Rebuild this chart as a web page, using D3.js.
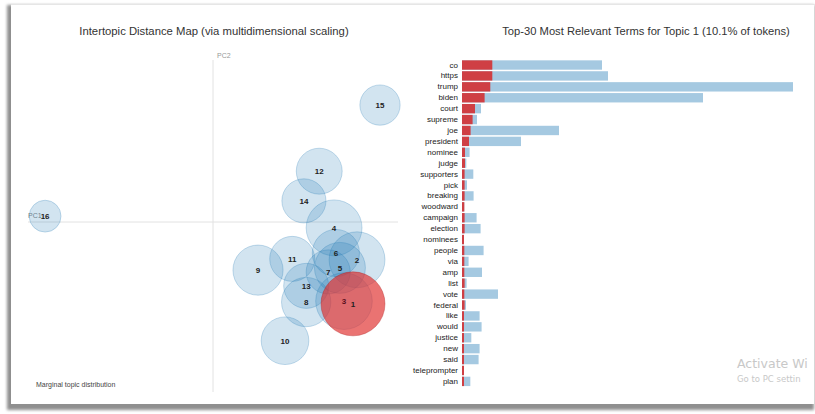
<!DOCTYPE html>
<html>
<head>
<meta charset="utf-8">
<script src="https://cdn.jsdelivr.net/npm/d3@7"></script>
<style>
  html, body { margin: 0; padding: 0; background: #fff; }
  svg { display: block; font-family: "Liberation Sans", Arial, sans-serif; }
</style>
</head>
<body>
<svg id="chart" width="815" height="414"></svg>
<script>
// ---- data ----
const topicIds   = [1, 2, 3, 4, 5, 6, 7, 8, 9, 10, 11, 12, 13, 14, 15, 16];
const topicPC1   = [0.311, 0.320, 0.291, 0.269, 0.282, 0.273, 0.256, 0.207, 0.100, 0.160, 0.176, 0.236, 0.207, 0.202, 0.371, -0.373];
const topicPC2   = [-0.182, -0.084, -0.176, -0.013, -0.102, -0.069, -0.111, -0.178, -0.107, -0.264, -0.082, 0.113, -0.142, 0.047, 0.260, 0.013];
const topicFreq  = [10.1, 7.7, 7.9, 7.7, 6.4, 5.5, 4.8, 6.0, 6.2, 5.6, 5.0, 5.2, 5.0, 4.8, 4.0, 2.5];
const selectedTopic = 1;
const drawOrder  = [2, 3, 4, 5, 6, 7, 8, 9, 10, 11, 12, 13, 14, 15, 16, 1];

const terms = ["co","https","trump","biden","court","supreme","joe","president","nominee","judge",
  "supporters","pick","breaking","woodward","campaign","election","nominees","people","via","amp",
  "list","vote","federal","like","would","justice","new","said","teleprompter","plan"];
const termTotal = [140, 146, 331, 241, 19, 15, 97, 59, 7.6, 4.3,
  11.3, 5, 11.6, 2.3, 14.6, 18.6, 2, 21.6, 6.6, 20,
  4.6, 36, 4, 17.6, 19.6, 9.3, 17.6, 16.6, 2, 8.3];
const termTopic = [30.3, 30.3, 28.3, 22.6, 13, 10.6, 8.6, 7, 3, 3,
  2.6, 2.6, 2.6, 2.3, 2.6, 2.6, 2, 2.3, 2.3, 2.3,
  2.6, 2.3, 2.6, 2, 2, 2, 2, 2, 2, 2];

const leftTitle  = "Intertopic Distance Map (via multidimensional scaling)";
const rightTitle = "Top-30 Most Relevant Terms for Topic 1 (10.1% of tokens)";

// ---- drawing ----
const svg = d3.select("#chart");
const defs = svg.append("defs");
const f = defs.append("filter").attr("id", "shadow").attr("x", "-5%").attr("y", "-5%").attr("width", "110%").attr("height", "110%");
f.append("feGaussianBlur").attr("in", "SourceGraphic").attr("stdDeviation", 1.6);

// card frame with shadow
svg.append("rect").attr("x", 7).attr("y", 5).attr("width", 807).attr("height", 405)
  .attr("fill", "#8f8f8f").attr("filter", "url(#shadow)");
svg.append("rect").attr("x", 11).attr("y", 4).attr("width", 803).attr("height", 400)
  .attr("fill", "#fff");
svg.append("line").attr("x1", 11).attr("x2", 815).attr("y1", 4.5).attr("y2", 4.5)
  .attr("stroke", "#e6e6e6");

const textCol = "#333";

// ---- left: intertopic distance map ----
const x = d3.scaleLinear().domain([-0.411, 0.411]).range([28, 398]);
const y = d3.scaleLinear().domain([-0.378, 0.378]).range([392, 52]);
const r = d3.scaleSqrt().domain([0, 10.1]).range([0, 32]);

svg.append("text").attr("x", 214).attr("y", 35).attr("text-anchor", "middle")
  .attr("font-size", 11.3).attr("fill", textCol).text(leftTitle);

svg.append("line").attr("x1", x(0)).attr("x2", x(0)).attr("y1", 60).attr("y2", 392)
  .attr("stroke", "#e2e2e2").attr("stroke-width", 1);
svg.append("line").attr("x1", 28).attr("x2", 398).attr("y1", y(0)).attr("y2", y(0))
  .attr("stroke", "#e2e2e2").attr("stroke-width", 1);
svg.append("text").attr("x", x(0) + 4).attr("y", 58).attr("font-size", 7)
  .attr("fill", "#999").text("PC2");
svg.append("text").attr("x", 28).attr("y", y(0) - 4).attr("font-size", 7)
  .attr("fill", "#888").text("PC1");

const topics = topicIds.map((id, i) => ({ id, px: topicPC1[i], py: topicPC2[i], f: topicFreq[i] }));
const ordered = drawOrder.map(id => topics.find(t => t.id === id));
const gC = svg.append("g");
gC.selectAll("circle").data(ordered).join("circle")
  .attr("cx", d => x(d.px)).attr("cy", d => y(d.py)).attr("r", d => r(d.f))
  .attr("fill", d => d.id === selectedTopic ? "#e0312f" : "#1f77b4")
  .attr("fill-opacity", d => d.id === selectedTopic ? 0.68 : 0.2)
  .attr("stroke", d => d.id === selectedTopic ? "#b02020" : "#1f77b4")
  .attr("stroke-opacity", d => d.id === selectedTopic ? 0.35 : 0.25)
  .attr("stroke-width", 1);

svg.append("g").selectAll("text").data(topics).join("text")
  .attr("x", d => x(d.px)).attr("y", d => y(d.py) + 3)
  .attr("text-anchor", "middle").attr("font-size", 8).attr("font-weight", "bold")
  .attr("fill", d => d.id === 3 ? "#5a1020" : "#222").text(d => d.id);

svg.append("text").attr("x", 36).attr("y", 387).attr("font-size", 7)
  .attr("fill", "#444").text("Marginal topic distribution");

// ---- right: bar chart ----
const xb = d3.scaleLinear().domain([0, 331]).range([462, 793]);
const yb = d3.scaleBand().domain(terms).range([58.8, 387.6]).padding(0.14);

svg.append("text").attr("x", 646).attr("y", 35).attr("text-anchor", "middle")
  .attr("font-size", 11.2).attr("fill", textCol).text(rightTitle);

const bars = terms.map((t, i) => ({ t, tot: termTotal[i], top: termTopic[i] }));
svg.append("g").selectAll("rect").data(bars).join("rect")
  .attr("x", xb(0)).attr("y", d => yb(d.t)).attr("height", yb.bandwidth())
  .attr("width", d => xb(d.tot) - xb(0))
  .attr("fill", "#1f77b4").attr("opacity", 0.4);
svg.append("g").selectAll("rect").data(bars).join("rect")
  .attr("x", xb(0)).attr("y", d => yb(d.t)).attr("height", yb.bandwidth())
  .attr("width", d => xb(d.top) - xb(0))
  .attr("fill", "#d62728").attr("opacity", 0.85);

const yAxis = d3.axisLeft(yb).tickSize(0).tickPadding(4);
const ga = svg.append("g").attr("transform", `translate(${xb(0)},0)`).call(yAxis);
ga.select(".domain").remove();
ga.selectAll("text").attr("font-size", 8).attr("fill", "#222")
  .attr("font-family", "Liberation Sans, Arial, sans-serif");

// watermark
svg.append("text").attr("x", 737).attr("y", 368).attr("font-size", 12.5)
  .attr("font-family", "DejaVu Sans, sans-serif").attr("fill", "#c8c8c8").text("Activate Wi");
svg.append("text").attr("x", 737).attr("y", 382).attr("font-size", 8.5)
  .attr("font-family", "DejaVu Sans, sans-serif").attr("fill", "#c8c8c8").text("Go to PC settin");
</script>
</body>
</html>
